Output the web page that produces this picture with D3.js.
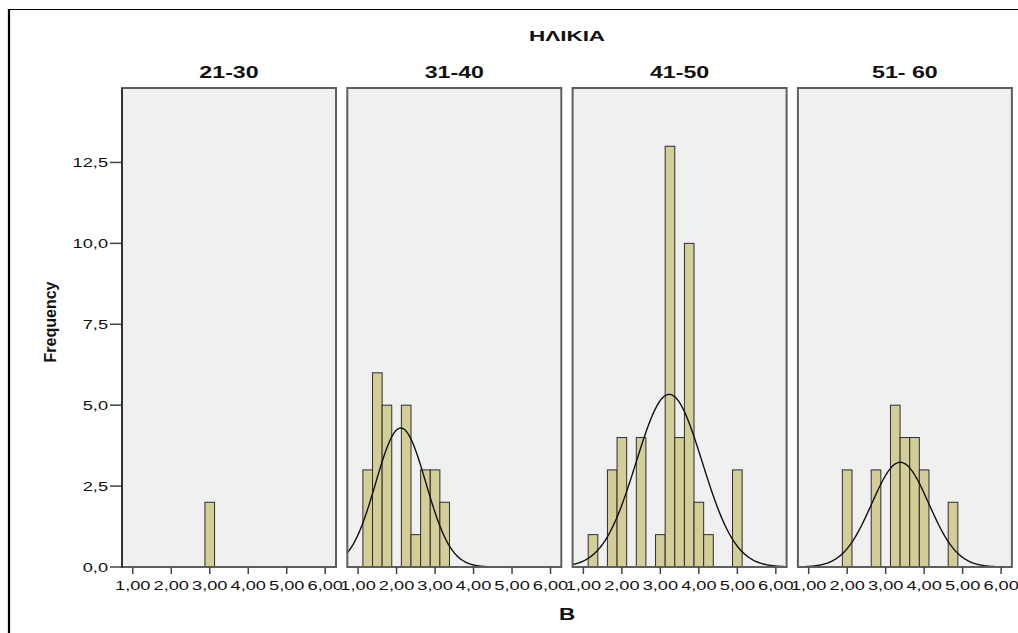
<!DOCTYPE html>
<meta charset="utf-8">
<style>

body {
  margin: 0;
  background: #fff;
}

text {
  font-family: "Liberation Sans", Arial, sans-serif;
  fill: #111;
}

.panel-bg {
  fill: #f0f0f0;
}

.bar {
  fill: #d3ce98;
  stroke: #2e2e2e;
  stroke-width: 1px;
}

.curve {
  fill: none;
  stroke: #111;
  stroke-width: 1.4px;
}

</style>
<body>
</body>
<script src="https://cdn.jsdelivr.net/npm/d3@7"></script>
<script>

// data
var groups = ["21-30", "31-40", "41-50", "51- 60"];

var binWidth = 0.25;
var lows2130 = [2.875];
var counts2130 = [2];
var lows3140 = [1.125, 1.375, 1.625, 2.125, 2.375, 2.625, 2.875, 3.125];
var counts3140 = [3, 6, 5, 5, 1, 3, 3, 2];
var lows4150 = [1.125, 1.625, 1.875, 2.375, 2.875, 3.125, 3.375, 3.625, 3.875, 4.125, 4.875];
var counts4150 = [1, 3, 4, 4, 1, 13, 4, 10, 2, 1, 3];
var lows5160 = [1.875, 2.625, 3.125, 3.375, 3.625, 3.875, 4.625];
var counts5160 = [3, 3, 5, 4, 4, 3, 2];

// normal curve parameters (none for 21-30)
var means = [null, 2.11, 3.23, 3.38];
var sds = [null, 0.65, 0.86, 0.74];

var xTicks = [1, 2, 3, 4, 5, 6];
var yTicks = [0, 2.5, 5, 7.5, 10, 12.5];

var lows = [lows2130, lows3140, lows4150, lows5160];
var counts = [counts2130, counts3140, counts4150, counts5160];

var w = 1018,
    h = 633,
    pTop = 88,
    pBottom = 567,
    left0 = 122,
    step = 225.3,
    pw = 214,
    sx = 1.35;

var fmt = function(v, d) { return v.toFixed(d).replace(".", ","); };

var svg = d3.select("body").append("svg")
    .attr("width", w)
    .attr("height", h);

// outer frame (top + left only)
svg.append("line").attr("x1", 8).attr("x2", w).attr("y1", 9.5).attr("y2", 9.5)
    .style("stroke", "#000").style("stroke-width", 1.2);
svg.append("line").attr("x1", 9).attr("x2", 9).attr("y1", 9).attr("y2", h)
    .style("stroke", "#000").style("stroke-width", 2.2);

function label(x, y, txt, size, weight, anchor, scale) {
  return svg.append("text")
      .attr("transform", "translate(" + x + "," + y + ") scale(" + scale + ",1)")
      .attr("text-anchor", anchor)
      .style("font-size", size + "px")
      .style("font-weight", weight)
      .text(txt);
}

var y = d3.scaleLinear().domain([0, 14.8]).range([pBottom, pTop]);

label(567, 41, "ΗΛΙΚΙΑ", 15, "bold", "middle", 1.5);
label(567, 620, "B", 16, "bold", "middle", 1.4);

svg.append("text")
    .attr("transform", "translate(56,322) rotate(-90)")
    .attr("text-anchor", "middle")
    .style("font-size", "16px")
    .style("font-weight", "bold")
    .text("Frequency");

// y axis ticks
yTicks.forEach(function(t) {
  svg.append("line")
      .attr("x1", 110).attr("x2", left0)
      .attr("y1", y(t)).attr("y2", y(t))
      .style("stroke", "#444").style("stroke-width", 1.5);
  label(108, y(t) + 5, fmt(t, 1), 13.5, "normal", "end", sx);
});

groups.forEach(function(g, i) {
  var x0 = left0 + i * step;
  var x = d3.scaleLinear().domain([0.72, 6.28]).range([x0, x0 + pw]);

  label(x0 + pw / 2, 78, g, 16, "bold", "middle", 1.45);

  svg.append("rect")
      .attr("class", "panel-bg")
      .attr("x", x0).attr("y", pTop)
      .attr("width", pw).attr("height", pBottom - pTop);

  var clipId = "clip" + i;
  svg.append("clipPath").attr("id", clipId)
    .append("rect")
      .attr("x", x0).attr("y", pTop)
      .attr("width", pw).attr("height", pBottom - pTop);

  var data = lows[i].map(function(lo, j) { return {lo: lo, n: counts[i][j]}; });

  svg.append("g").selectAll("rect")
      .data(data)
    .enter().append("rect")
      .attr("class", "bar")
      .attr("x", function(d) { return x(d.lo); })
      .attr("width", function(d) { return x(d.lo + binWidth) - x(d.lo); })
      .attr("y", function(d) { return y(d.n); })
      .attr("height", function(d) { return y(0) - y(d.n); });

  if (means[i] !== null) {
    var n = d3.sum(counts[i]),
        m = means[i],
        s = sds[i];
    var pts = d3.range(0.72, 6.281, 0.02).map(function(v) {
      var z = (v - m) / s;
      return [v, n * binWidth * Math.exp(-0.5 * z * z) / (s * Math.sqrt(2 * Math.PI))];
    });
    svg.append("path")
        .attr("class", "curve")
        .attr("clip-path", "url(#" + clipId + ")")
        .attr("d", d3.line()
            .x(function(d) { return x(d[0]); })
            .y(function(d) { return y(d[1]); })
            .curve(d3.curveBasis)(pts));
  }

  // border on top of the bars
  svg.append("rect")
      .attr("x", x0).attr("y", pTop)
      .attr("width", pw).attr("height", pBottom - pTop)
      .style("fill", "none").style("stroke", "#5e5e5e").style("stroke-width", 2);

  xTicks.forEach(function(t) {
    svg.append("line")
        .attr("x1", x(t)).attr("x2", x(t))
        .attr("y1", pBottom).attr("y2", pBottom + 7)
        .style("stroke", "#444").style("stroke-width", 1.5);
    label(x(t), pBottom + 23, fmt(t, 2), 13.5, "normal", "middle", sx);
  });
});

// darker left axis line
svg.append("line")
    .attr("x1", left0).attr("x2", left0)
    .attr("y1", pTop).attr("y2", pBottom + 1)
    .style("stroke", "#333").style("stroke-width", 2);

</script>
